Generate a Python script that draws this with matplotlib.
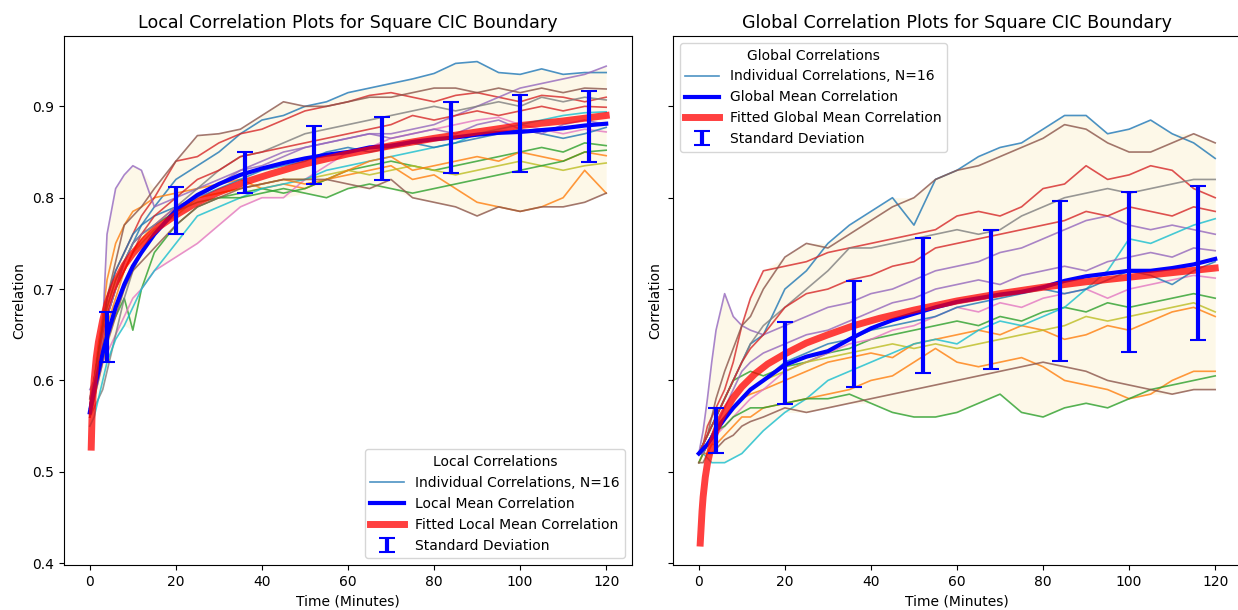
import numpy as np
import matplotlib
matplotlib.use("Agg")
import matplotlib.pyplot as plt
from matplotlib.lines import Line2D

# ---------------- data ----------------
t_ind = [0, 1, 2, 3, 4, 6, 8, 10, 12, 15, 20, 25, 30, 35, 40, 45, 50, 55, 60,
         65, 70, 75, 80, 85, 90, 95, 100, 105, 110, 115, 120]

local_individual = [
    [.57,.60,.63,.65,.67,.70,.73,.75,.77,.79,.82,.835,.85,.87,.885,.89,.90,.905,.915,.92,.925,.93,.936,.947,.949,.937,.935,.941,.935,.937,.937],
    [.57,.60,.64,.67,.71,.75,.77,.785,.79,.80,.805,.81,.815,.82,.81,.815,.81,.82,.825,.83,.835,.82,.825,.81,.795,.79,.785,.79,.80,.83,.805],
    [.57,.59,.61,.63,.65,.67,.69,.655,.70,.74,.77,.79,.80,.805,.81,.805,.81,.82,.83,.835,.84,.835,.83,.835,.84,.845,.85,.855,.85,.86,.857],
    [.57,.60,.63,.66,.69,.72,.74,.76,.78,.80,.84,.845,.86,.87,.875,.885,.895,.90,.905,.912,.915,.91,.905,.912,.915,.91,.905,.912,.91,.905,.91],
    [.59,.60,.62,.66,.76,.81,.825,.835,.83,.79,.80,.81,.82,.83,.835,.845,.855,.86,.865,.87,.87,.875,.88,.89,.90,.91,.92,.925,.93,.935,.944],
    [.57,.60,.63,.66,.69,.73,.77,.78,.79,.81,.84,.868,.87,.875,.89,.905,.90,.90,.905,.91,.91,.915,.92,.92,.915,.92,.915,.92,.915,.92,.919],
    [.56,.58,.60,.62,.63,.65,.67,.69,.70,.72,.735,.75,.77,.79,.80,.80,.82,.835,.85,.855,.865,.87,.875,.88,.885,.888,.88,.875,.87,.875,.872],
    [.56,.57,.58,.59,.61,.65,.69,.72,.74,.76,.79,.81,.83,.845,.85,.86,.87,.875,.88,.885,.89,.895,.90,.895,.90,.905,.90,.91,.905,.91,.907],
    [.57,.59,.62,.65,.67,.70,.72,.74,.75,.765,.78,.80,.805,.81,.815,.82,.82,.825,.83,.825,.83,.835,.83,.825,.83,.835,.84,.835,.83,.835,.838],
    [.55,.56,.58,.60,.62,.645,.66,.68,.70,.72,.75,.78,.79,.80,.81,.815,.82,.83,.835,.84,.845,.85,.855,.86,.87,.875,.88,.885,.89,.893,.894],
    [.57,.60,.63,.66,.69,.72,.74,.76,.77,.78,.79,.80,.81,.82,.83,.835,.84,.85,.855,.85,.855,.86,.855,.86,.865,.87,.875,.87,.865,.87,.877],
    [.56,.58,.61,.64,.66,.69,.72,.74,.755,.77,.79,.80,.805,.81,.815,.82,.815,.82,.83,.84,.845,.83,.835,.84,.845,.84,.85,.845,.84,.85,.846],
    [.58,.60,.63,.66,.68,.71,.73,.75,.76,.77,.785,.795,.80,.80,.805,.81,.805,.80,.81,.815,.81,.805,.81,.815,.82,.825,.83,.835,.84,.85,.852],
    [.56,.59,.62,.64,.67,.70,.72,.74,.76,.78,.80,.82,.83,.845,.85,.855,.86,.865,.87,.875,.88,.89,.885,.89,.895,.89,.895,.90,.895,.90,.899],
    [.58,.60,.62,.65,.67,.70,.73,.75,.76,.77,.79,.80,.815,.83,.84,.85,.855,.86,.865,.87,.865,.87,.875,.87,.88,.885,.875,.87,.88,.885,.88],
    [.56,.58,.60,.62,.64,.67,.70,.72,.73,.745,.77,.79,.80,.81,.815,.82,.82,.82,.815,.81,.82,.80,.795,.79,.78,.79,.785,.79,.79,.795,.805],
]

global_individual = [
    [.52,.53,.54,.55,.56,.58,.60,.62,.64,.65,.70,.72,.75,.77,.785,.80,.77,.82,.83,.845,.855,.86,.875,.89,.89,.87,.875,.885,.87,.86,.843],
    [.52,.52,.53,.54,.55,.56,.57,.58,.585,.59,.60,.61,.62,.625,.63,.625,.64,.645,.65,.655,.65,.66,.655,.645,.65,.66,.655,.665,.675,.68,.67],
    [.52,.53,.54,.55,.56,.58,.60,.605,.61,.605,.615,.62,.63,.635,.645,.65,.655,.66,.665,.66,.67,.665,.675,.68,.675,.685,.68,.685,.69,.695,.69],
    [.52,.53,.55,.56,.57,.59,.62,.66,.69,.72,.725,.73,.74,.745,.75,.755,.76,.765,.78,.785,.78,.79,.81,.815,.835,.82,.825,.835,.83,.81,.80],
    [.52,.545,.58,.62,.655,.695,.67,.66,.655,.65,.66,.67,.68,.685,.695,.70,.71,.72,.725,.73,.74,.745,.755,.765,.775,.78,.77,.765,.77,.765,.76],
    [.52,.53,.54,.56,.58,.61,.635,.66,.67,.70,.735,.75,.745,.76,.775,.79,.80,.82,.83,.835,.845,.855,.865,.88,.875,.86,.85,.85,.86,.87,.86],
    [.51,.52,.52,.53,.54,.55,.56,.57,.58,.59,.61,.62,.63,.64,.645,.655,.66,.67,.68,.675,.685,.68,.69,.695,.70,.69,.70,.705,.71,.715,.712],
    [.52,.53,.54,.55,.56,.58,.60,.62,.64,.66,.68,.70,.72,.745,.745,.75,.755,.76,.765,.76,.765,.78,.79,.80,.805,.81,.805,.81,.815,.82,.82],
    [.52,.52,.53,.54,.55,.56,.57,.58,.59,.60,.61,.62,.625,.63,.635,.64,.635,.64,.635,.64,.645,.65,.655,.66,.67,.665,.67,.675,.68,.685,.675],
    [.52,.52,.515,.51,.51,.51,.515,.52,.53,.545,.565,.58,.60,.61,.62,.63,.64,.645,.64,.655,.665,.66,.67,.68,.70,.72,.755,.75,.76,.77,.777],
    [.52,.52,.53,.54,.55,.56,.57,.58,.59,.60,.62,.63,.64,.645,.655,.66,.665,.67,.68,.685,.69,.695,.70,.695,.70,.71,.72,.715,.705,.72,.73],
    [.51,.52,.52,.53,.53,.54,.55,.56,.56,.57,.575,.58,.585,.59,.60,.605,.62,.635,.62,.615,.62,.625,.615,.60,.595,.59,.58,.585,.60,.61,.61],
    [.51,.52,.53,.54,.545,.55,.56,.565,.57,.57,.575,.58,.58,.585,.575,.565,.56,.56,.565,.575,.585,.565,.56,.57,.575,.57,.58,.59,.595,.60,.605],
    [.52,.53,.54,.55,.56,.58,.60,.62,.635,.65,.68,.695,.70,.71,.715,.725,.73,.745,.75,.755,.76,.765,.77,.775,.785,.78,.79,.785,.78,.79,.785],
    [.52,.52,.53,.54,.55,.57,.59,.61,.62,.63,.64,.65,.655,.665,.675,.685,.69,.70,.705,.71,.705,.715,.72,.725,.72,.73,.735,.74,.735,.745,.742],
    [.51,.51,.52,.52,.525,.535,.54,.55,.555,.56,.57,.565,.57,.575,.58,.585,.59,.595,.60,.605,.61,.615,.62,.615,.61,.60,.595,.59,.585,.59,.59],
]

local_mean = [0.565, 0.59, 0.61, 0.63, 0.648, 0.68, 0.705, 0.725, 0.74, 0.76, 0.786, 0.803, 0.815,
              0.825, 0.832, 0.838, 0.843, 0.847, 0.850, 0.855, 0.857, 0.861, 0.864, 0.866, 0.869,
              0.871, 0.872, 0.874, 0.876, 0.879, 0.881]
global_mean = [0.520, 0.525, 0.530, 0.537, 0.545, 0.558, 0.570, 0.580, 0.590, 0.600, 0.617, 0.626,
               0.632, 0.645, 0.657, 0.666, 0.673, 0.680, 0.686, 0.690, 0.694, 0.697, 0.702, 0.709,
               0.714, 0.717, 0.720, 0.720, 0.723, 0.727, 0.733]

t_fit = [0.33, 0.5, 0.75, 1, 1.5, 2, 3, 4, 5, 6, 8, 10, 13, 16, 20, 25, 30, 36, 42, 50, 60,
         70, 80, 90, 100, 110, 120]
local_fit = [0.527, 0.558, 0.583, 0.600, 0.625, 0.642, 0.666, 0.684, 0.697, 0.708, 0.726, 0.739,
             0.755, 0.768, 0.781, 0.795, 0.806, 0.817, 0.826, 0.837, 0.848, 0.857, 0.865, 0.872,
             0.879, 0.884, 0.890]
global_fit = [0.422, 0.436, 0.457, 0.4725, 0.494, 0.509, 0.530, 0.545, 0.557, 0.566, 0.581, 0.593,
              0.607, 0.618, 0.629, 0.641, 0.650, 0.660, 0.668, 0.677, 0.687, 0.695, 0.702, 0.708,
              0.713, 0.718, 0.723]

t_err = [4, 20, 36, 52, 68, 84, 100, 116]
local_err_center = [0.6475, 0.786, 0.8275, 0.8465, 0.8535, 0.866, 0.870, 0.878]
local_err_std = [0.0275, 0.026, 0.0225, 0.0315, 0.0345, 0.039, 0.042, 0.039]
global_err_center = [0.5455, 0.619, 0.651, 0.682, 0.6885, 0.7085, 0.7185, 0.7285]
global_err_std = [0.0245, 0.045, 0.058, 0.074, 0.0765, 0.0875, 0.0875, 0.0845]

# ---------------- plot ----------------
W, H = 1238, 610
fig = plt.figure(figsize=(W / 100, H / 100), dpi=100)
ax1 = fig.add_axes([64 / W, 45 / H, 568 / W, 529 / H])
ax2 = fig.add_axes([673 / W, 45 / H, 568 / W, 529 / H], sharey=ax1)

fill_color = "#fdf3d6"


def draw(ax, series, mean, fit, ec, es, kind, loc):
    t = np.array(t_ind)
    arr = np.array(series)
    ax.fill_between(t, arr.min(axis=0), arr.max(axis=0), color=fill_color, alpha=0.55,
                    lw=0, zorder=1)
    for i, s in enumerate(series):
        ax.plot(t, s, color=f"C{i % 10}", lw=1.2, alpha=0.8, zorder=2)
    ax.plot(t, mean, color="blue", lw=3, zorder=3)
    ax.plot(t_fit, fit, color="red", lw=5, alpha=0.75, zorder=4)
    eb = ax.errorbar(t_err, ec, yerr=es, fmt="none", ecolor="blue", elinewidth=3,
                     capsize=6, capthick=1.5, zorder=5)
    handles = [
        Line2D([], [], color="C0", lw=1.2, alpha=0.8),
        Line2D([], [], color="blue", lw=3),
        Line2D([], [], color="red", lw=5, alpha=0.75),
        eb,
    ]
    labels = ["Individual Correlations, N=16", f"{kind} Mean Correlation",
              f"Fitted {kind} Mean Correlation", "Standard Deviation"]
    ax.legend(handles, labels, title=f"{kind} Correlations", loc=loc, fontsize=10,
              title_fontsize=10, handlelength=2.4)
    ax.set_xlabel("Time (Minutes)", fontsize=10)
    ax.set_ylabel("Correlation", fontsize=10)
    ax.set_xlim(-6, 126)
    ax.set_xticks([0, 20, 40, 60, 80, 100, 120])


draw(ax1, local_individual, local_mean, local_fit, local_err_center, local_err_std,
     "Local", "lower right")
draw(ax2, global_individual, global_mean, global_fit, global_err_center, global_err_std,
     "Global", "upper left")

ax1.set_ylim(0.398, 0.977)
ax1.set_yticks([0.4, 0.5, 0.6, 0.7, 0.8, 0.9])
ax2.tick_params(labelleft=False)

ax1.set_title("Local Correlation Plots for Square CIC Boundary", fontsize=12.6)
ax2.set_title("Global Correlation Plots for Square CIC Boundary", fontsize=12.6)

fig.savefig("out.png", dpi=100)
